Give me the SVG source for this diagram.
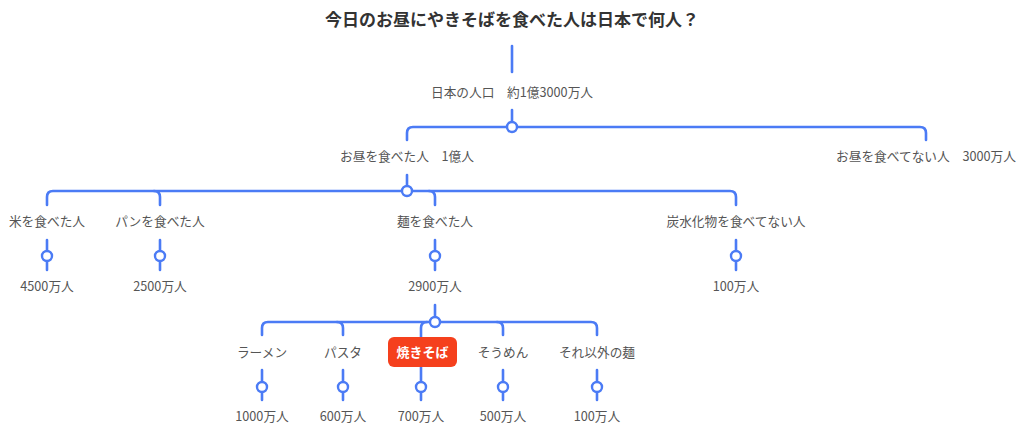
<svg xmlns="http://www.w3.org/2000/svg" width="1024" height="446" viewBox="0 0 1024 446">
<style>
.t{font-family:"Noto Sans CJK JP","Noto Sans",sans-serif;font-size:12.7px;fill:#555;text-anchor:middle}
.title{font-family:"Noto Sans CJK JP","Noto Sans",sans-serif;font-size:17px;font-weight:bold;fill:#333;text-anchor:middle}
.hl{font-family:"Noto Sans CJK JP","Noto Sans",sans-serif;font-size:13px;font-weight:bold;fill:#fff;text-anchor:middle}
.c{fill:none;stroke:#4B7BF5;stroke-width:2.6;stroke-linecap:round}
.dot{fill:#fff;stroke:#4B7BF5;stroke-width:2.4}
</style>
<rect width="1024" height="446" fill="#fff"/>
<g id="connectors">
<path class="c" d="M512,46V72"/>
<path class="c" d="M512,110V127"/>
<path class="c" d="M407,140V133Q407,127 413,127H920Q926,127 926,133V140"/>
<path class="c" d="M407,175V191"/>
<path class="c" d="M47,205V197Q47,191 53,191H730Q736,191 736,197V205"/>
<path class="c" d="M154,191Q160,191 160,197V205"/>
<path class="c" d="M429,191Q435,191 435,197V205"/>
<path class="c" d="M47,240V270M160,240V270M435,240V270M736,240V270"/>
<path class="c" d="M435,305V322"/>
<path class="c" d="M262,335V328Q262,322 268,322H591Q597,322 597,328V335"/>
<path class="c" d="M337,322Q343,322 343,328V335"/>
<path class="c" d="M427,322Q421,322 421,328V340"/>
<path class="c" d="M497,322Q503,322 503,328V335"/>
<path class="c" d="M262,370V400M343,370V400M421,367V400M503,370V400M597,370V400"/>
<circle class="dot" cx="512" cy="127" r="5"/>
<circle class="dot" cx="407" cy="191" r="5"/>
<circle class="dot" cx="435" cy="322" r="5"/>
<circle class="dot" cx="47" cy="256" r="5"/>
<circle class="dot" cx="160" cy="256" r="5"/>
<circle class="dot" cx="435" cy="256" r="5"/>
<circle class="dot" cx="736" cy="256" r="5"/>
<circle class="dot" cx="262" cy="387" r="5"/>
<circle class="dot" cx="343" cy="387" r="5"/>
<circle class="dot" cx="421" cy="387" r="5"/>
<circle class="dot" cx="503" cy="387" r="5"/>
<circle class="dot" cx="597" cy="387" r="5"/>
</g>
<g id="title"><text class="title" x="512" y="26">今日のお昼にやきそばを食べた人は日本で何人？</text></g>
<g id="n-japan"><text class="t" x="512" y="97">日本の人口　約1億3000万人</text></g>
<g id="n-ate"><text class="t" x="407" y="161">お昼を食べた人　1億人</text></g>
<g id="n-notate"><text class="t" x="926" y="161">お昼を食べてない人　3000万人</text></g>
<g id="n-rice"><text class="t" x="47" y="226">米を食べた人</text></g>
<g id="n-bread"><text class="t" x="160" y="226">パンを食べた人</text></g>
<g id="n-noodle"><text class="t" x="435" y="226">麺を食べた人</text></g>
<g id="n-nocarb"><text class="t" x="736" y="226">炭水化物を食べてない人</text></g>
<g id="v-rice"><text class="t" x="47" y="291">4500万人</text></g>
<g id="v-bread"><text class="t" x="160" y="291">2500万人</text></g>
<g id="v-noodle"><text class="t" x="435" y="291">2900万人</text></g>
<g id="v-nocarb"><text class="t" x="736" y="291">100万人</text></g>
<g id="n-ramen"><text class="t" x="262" y="357">ラーメン</text></g>
<g id="n-pasta"><text class="t" x="343" y="357">パスタ</text></g>
<g id="n-yakisoba"><rect x="388" y="337" width="69" height="30" rx="6" fill="#F5401D"/><text class="hl" x="422.5" y="357">焼きそば</text></g>
<g id="n-somen"><text class="t" x="503" y="357">そうめん</text></g>
<g id="n-other"><text class="t" x="597" y="357">それ以外の麺</text></g>
<g id="v-ramen"><text class="t" x="262" y="421">1000万人</text></g>
<g id="v-pasta"><text class="t" x="343" y="421">600万人</text></g>
<g id="v-yakisoba"><text class="t" x="421" y="421">700万人</text></g>
<g id="v-somen"><text class="t" x="503" y="421">500万人</text></g>
<g id="v-other"><text class="t" x="597" y="421">100万人</text></g>
</svg>
